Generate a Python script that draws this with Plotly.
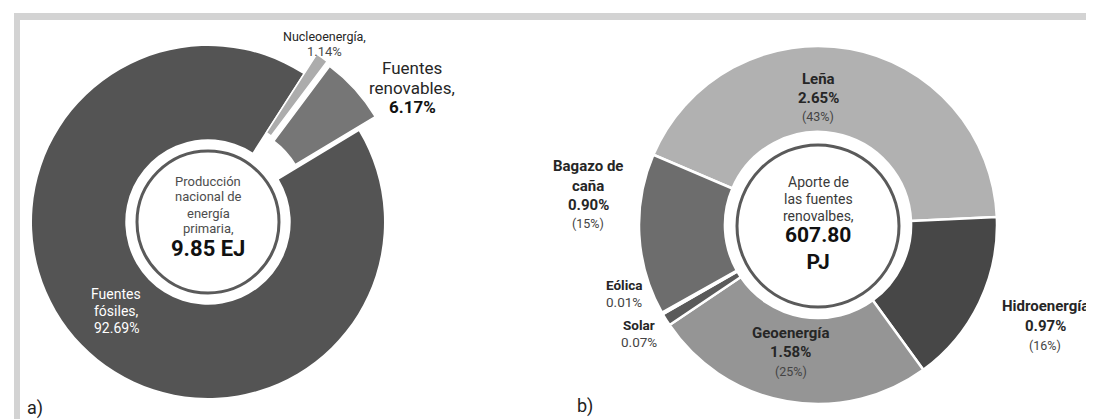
import numpy as np
import plotly.graph_objects as go

W, H = 1094, 419

# ---------------- data ----------------
# a) Producción nacional de energía primaria
a_labels = ["Fuentes fósiles", "Nucleoenergía", "Fuentes renovables"]
a_values = [92.69, 1.14, 6.17]
a_total = "9.85 EJ"

# b) Aporte de las fuentes renovables
b_labels = ["Leña", "Hidroenergía", "Geoenergía", "Solar", "Eólica", "Bagazo de caña"]
b_values = [2.65, 0.97, 1.58, 0.07, 0.01, 0.90]
b_shares = [43, 16, 25, None, None, 15]
b_total = "607.80"
b_unit = "PJ"

# ---------------- style ----------------
a_colors = ["#545454", "#acacac", "#767676"]
b_colors = ["#b1b1b1", "#474747", "#959595", "#5a5a5a", "#7a7a7a", "#6d6d6d"]
FONT = "Roboto"
TXT = "#262626"

A_CX, A_CY, A_R, A_HOLE, A_ROT = 200, 214, 176, 0.47, 59
A_PULL = [0, 24, 22]
A_INNER_R = 71
B_CX, B_CY, B_R, B_HOLE, B_ROT = 810, 217, 179, 0.52, -66.9
B_INNER_R = 81


def dom(cx, cy, r):
    return dict(x=[(cx - r) / W, (cx + r) / W], y=[1 - (cy + r) / H, 1 - (cy - r) / H])


fig = go.Figure()

# chart a: one trace per slice so pulled slices keep the full radius
vals = np.array(a_values)
starts = A_ROT + 360 * np.concatenate([[0], np.cumsum(vals)[:-1]]) / vals.sum()
mids = starts + 180 * vals / vals.sum()
for i in range(len(a_values)):
    ang = np.deg2rad(mids[i])
    cx = A_CX + A_PULL[i] * np.sin(ang)
    cy = A_CY - A_PULL[i] * np.cos(ang)
    cols = ["rgba(0,0,0,0)"] * len(a_values)
    cols[i] = a_colors[i]
    lw = [0] * len(a_values)
    lw[i] = 0 if i == 0 else 1.5
    fig.add_trace(go.Pie(
        labels=a_labels, values=a_values, sort=False, direction="clockwise",
        rotation=A_ROT, hole=A_HOLE, textinfo="none", hoverinfo="label+value",
        marker=dict(colors=cols, line=dict(color="white", width=lw)),
        domain=dom(cx, cy, A_R), showlegend=False,
    ))

# chart b
fig.add_trace(go.Pie(
    labels=b_labels, values=b_values, sort=False, direction="clockwise",
    rotation=B_ROT, hole=B_HOLE, textinfo="none", hoverinfo="label+value",
    marker=dict(colors=b_colors, line=dict(color="white", width=2.5)),
    domain=dom(B_CX, B_CY, B_R), showlegend=False,
))

shapes = []
# frame bands
shapes.append(dict(type="rect", xref="paper", yref="paper", x0=6 / W, x1=1,
                   y0=1 - 12 / H, y1=1 - 5 / H, fillcolor="#d3d3d3", line_width=0, layer="below"))
shapes.append(dict(type="rect", xref="paper", yref="paper", x0=6 / W, x1=12 / W,
                   y0=0, y1=1 - 5 / H, fillcolor="#d3d3d3", line_width=0, layer="below"))
# inner circles
for cx, cy, r in [(A_CX, A_CY, A_INNER_R), (B_CX, B_CY + 1, B_INNER_R)]:
    shapes.append(dict(type="circle", xref="paper", yref="paper",
                       x0=(cx - r) / W, x1=(cx + r) / W, y0=1 - (cy + r) / H, y1=1 - (cy - r) / H,
                       line=dict(color="#5a5a5a", width=3), fillcolor="white"))

ann = []


def t(x, y, text, size, color=TXT, bold=False):
    s = f"<b>{text}</b>" if bold else text
    ann.append(dict(x=x / W, y=1 - y / H, xref="paper", yref="paper", text=s, showarrow=False,
                    xanchor="center", yanchor="middle",
                    font=dict(family=FONT, size=size, color=color)))


# chart a labels
t(316, 28, a_labels[1] + ",", 12.5)
t(316, 44, f"{a_values[1]:.2f}%", 13, "#4a4a4a")
t(404, 60, "Fuentes", 17)
t(404, 80, "renovables,", 17)
t(404, 99, f"{a_values[2]:.2f}%", 17, "#111", True)
for j, line in enumerate(["Producción", "nacional de", "energía", "primaria,"]):
    t(A_CX, 173 + 16 * j, line, 13, "#4d4d4d")
t(A_CX, 241, a_total, 22, "#111", True)
t(108, 286, "Fuentes", 14, "white")
t(108, 303, "fósiles,", 14, "white")
t(108, 320, f"{a_values[0]:.2f}%", 14, "white")
t(27, 400, "a)", 18, "#222")

# chart b labels
t(B_CX, 71, b_labels[0], 15, TXT, True)
t(B_CX, 90, f"{b_values[0]:.2f}%", 15, TXT, True)
t(B_CX, 109, f"({b_shares[0]}%)", 12.5, "#444")

t(1037, 298, b_labels[1], 15, TXT, True)
t(1037, 318, f"{b_values[1]:.2f}%", 15, TXT, True)
t(1037, 337, f"({b_shares[1]}%)", 12.5, "#444")

t(783, 325, b_labels[2], 15, TXT, True)
t(783, 344, f"{b_values[2]:.2f}%", 15, TXT, True)
t(783, 363, f"({b_shares[2]}%)", 12.5, "#444")

t(631, 317, b_labels[3], 13.5, TXT, True)
t(631, 334, f"{b_values[3]:.2f}%", 13.5, "#444")

t(616, 277, b_labels[4], 13.5, TXT, True)
t(616, 294, f"{b_values[4]:.2f}%", 13.5, "#444")

t(580, 158, "Bagazo de", 15, TXT, True)
t(580, 178, "caña", 15, TXT, True)
t(580, 197, f"{b_values[5]:.2f}%", 15, TXT, True)
t(580, 215, f"({b_shares[5]}%)", 12.5, "#444")

for j, line in enumerate(["Aporte de", "las fuentes", "renovalbes,"]):
    t(B_CX, 174 + 17 * j, line, 14, "#3a3a3a")
ann.append(dict(x=B_CX / W, y=1 - 241 / H, xref="paper", yref="paper",
                text=f"<b>{b_total}<br>{b_unit}</b>", showarrow=False,
                xanchor="center", yanchor="middle",
                font=dict(family=FONT, size=21, color="#111")))
t(577, 398, "b)", 18, "#222")

fig.update_layout(width=W, height=H, margin=dict(l=0, r=0, t=0, b=0),
                  paper_bgcolor="white", plot_bgcolor="white",
                  shapes=shapes, annotations=ann, showlegend=False)

fig.write_html("out.html")
